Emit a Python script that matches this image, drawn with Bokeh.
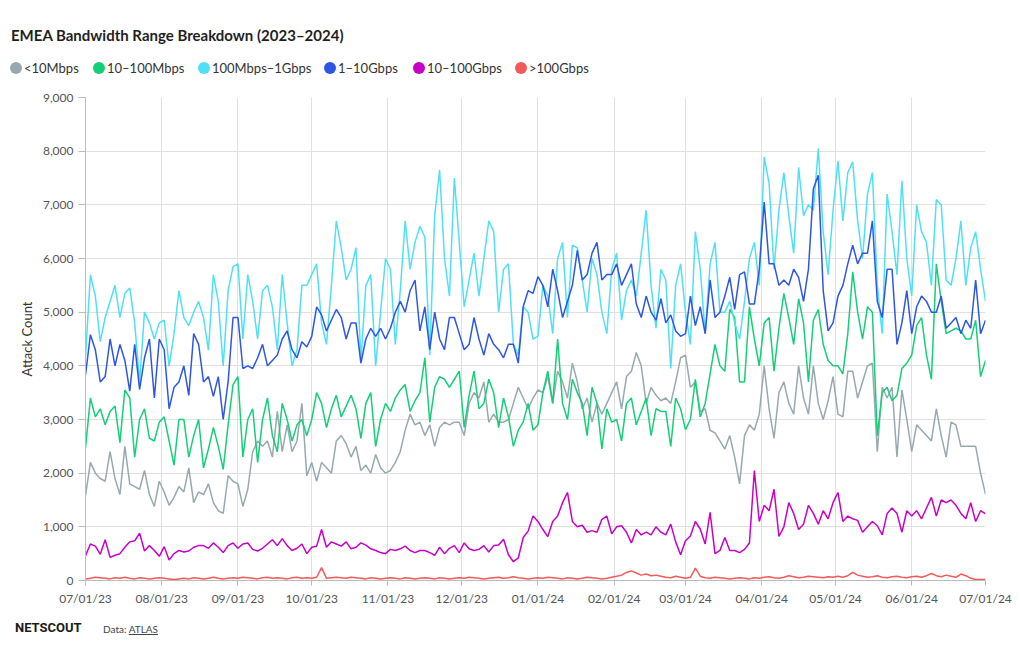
import sys
import pandas as pd
from bokeh.plotting import figure
from bokeh.models import (Range1d, FixedTicker, DatetimeTickFormatter, Div,
                          NumeralTickFormatter, SingleIntervalTicker)
from bokeh.layouts import column
from bokeh.embed import file_html
from bokeh.resources import INLINE

TITLE = "EMEA Bandwidth Range Breakdown (2023\u20132024)"
NAMES = ["&lt;10Mbps", "10\u2013100Mbps", "100Mbps\u20131Gbps", "1\u201310Gbps", "10\u2013100Gbps", "&gt;100Gbps"]
COLORS = ["#97a9af", "#14cf77", "#4fe0f5", "#2d56e6", "#c800c8", "#f25a5a"]

# sampled every 2 days from 07/01/23 to 07/01/24
dates = pd.date_range("2023-07-01", "2024-07-01", freq="2D")
month_ticks = pd.date_range("2023-07-01", "2024-07-01", freq="MS")

lt10m = [1580, 2200, 2000, 1900, 1850, 2400, 1900, 1600, 2500, 1800, 1750, 1700, 2050, 1600, 1380, 1850,
         1650, 1400, 1550, 1750, 1650, 2100, 1450, 1650, 1600, 1800, 1450, 1300, 1250, 1950, 1850,
         1800, 1380, 1700, 2400, 2600, 2500, 2600, 2300, 3150, 2400, 2900, 2400, 2600, 3300, 1950,
         2200, 1850, 2200, 2100, 2000, 2600, 2700, 2550, 2300, 2500, 2050, 2150, 2000, 2350, 2100, 2000,
         2050, 2200, 2400, 2800, 3100, 2900, 2950, 2700, 2900, 2500, 2850, 2950, 2900, 2950, 2950,
         2700, 3300, 3500, 3400, 3700, 2950, 3100, 2950, 2950, 3000, 3300, 3600, 3400, 3200, 3400,
         3550, 3500, 3800, 3300, 3900, 3700, 3400, 4050, 3700, 3200, 3400, 2950, 3300, 3100, 3300, 3500,
         3700, 3200, 3800, 3900, 4250, 4000, 3300, 3600, 3450, 3350, 3400, 3300, 3700, 4150,
         4200, 3600, 3700, 3150, 3200, 2800, 2750, 2600, 2450, 2700, 2300, 1800, 2700, 2900, 2800, 3100,
         4000, 3200, 2650, 3500, 3700, 3300, 3100, 4000, 3400, 3100, 4000, 3300, 3000, 3350, 3800,
         3100, 3050, 3900, 3900, 3400, 3700, 4000, 4050, 2400, 3600, 3400, 3600, 2300, 3550, 3000,
         2400, 2900, 2800, 2700, 2600, 3200, 2700, 2300, 2950, 2900, 2500, 2500, 2500, 2500, 2000, 1610]

m10_100 = [2470, 3400, 3050, 3200, 2900, 3150, 3250, 2570, 3550, 3400, 2300, 3000, 3200, 2650, 2600, 2950,
           3050, 2600, 2150, 3000, 3000, 2300, 2700, 3000, 2100, 2450, 2850, 2500, 2070, 2900, 3650,
           3800, 2300, 3000, 3200, 2200, 3000, 3400, 2700, 2400, 3300, 3000, 2600, 2900, 3000, 2700,
           3000, 3500, 3300, 2850, 3200, 3450, 3050, 3250, 3450, 3200, 2650, 3300, 3500, 2500, 3000, 3300,
           3150, 3400, 3550, 3650, 3150, 3350, 3500, 4150, 2950, 3600, 3800, 3750, 3600, 3750, 3900,
           2850, 3450, 3900, 3200, 3300, 3750, 3500, 2850, 3400, 3050, 2500, 2800, 2950, 3300, 2800,
           2900, 3500, 3900, 3300, 4500, 3300, 3000, 3750, 3500, 3300, 2700, 3600, 3300, 2450, 3200, 2950,
           3000, 2600, 3300, 3400, 2900, 3150, 3400, 2700, 3200, 3150, 3150, 2500, 3400, 3200,
           2810, 3000, 3750, 3050, 3300, 3850, 4400, 4000, 3900, 5050, 4900, 3700, 3700, 5100, 4500, 4000,
           4800, 4900, 3900, 4700, 5350, 4900, 4400, 5250, 4800, 3700, 4850, 5050, 4400, 4100, 4000,
           4000, 3850, 4600, 5750, 5000, 4500, 5100, 5000, 2700, 3500, 3600, 3350, 3450, 3950, 4050,
           4200, 4750, 4900, 4200, 3750, 5900, 5200, 4600, 4650, 4700, 4650, 4500, 4500, 4850, 3800, 4100]

m100_1g = [4170, 5700, 5300, 4450, 4900, 5200, 5500, 4900, 5350, 5450, 4800, 3700, 5000, 4800, 4500, 4800,
           4850, 3990, 4600, 5400, 4900, 4750, 5000, 5200, 4900, 4290, 5700, 5200, 4000, 5400, 5850,
           5900, 4500, 5700, 5200, 4500, 5400, 5500, 5100, 4300, 5700, 4800, 4000, 4300, 5500, 5500,
           5700, 5900, 4800, 4400, 5500, 6700, 6200, 5600, 5800, 6200, 4100, 5500, 5700, 4000, 5000, 6000,
           5800, 4400, 5400, 6700, 5800, 6300, 6600, 6400, 4200, 6800, 7650, 6000, 5300, 7500, 6300,
           5100, 5600, 6100, 5300, 6000, 6700, 6500, 5000, 5800, 5900, 4400, 4200, 5100, 5000, 4500,
           4550, 5500, 5300, 4600, 6000, 6300, 4900, 6250, 6200, 5600, 5000, 6000, 5700, 5000, 4600, 5800,
           6100, 4850, 5400, 5600, 5300, 6100, 6900, 5500, 4700, 5800, 5600, 3950, 5500, 5900,
           5000, 4400, 6500, 5800, 4600, 5900, 6300, 5000, 5000, 5200, 4800, 4500, 5200, 6000, 6300, 5500,
           7890, 7400, 5800, 6900, 7600, 6800, 6100, 7700, 6800, 7000, 6900, 8050, 6500, 5700, 6900,
           7820, 6700, 7600, 7800, 6700, 6000, 7200, 7600, 5500, 4600, 7200, 6500, 5700, 7450, 6000,
           5300, 7000, 6500, 6300, 5500, 7100, 7000, 5600, 5500, 6000, 6700, 5500, 6200, 6500, 5800, 5200]

g1_10 = [3830, 4580, 4300, 3700, 3800, 4500, 4000, 4400, 4100, 3530, 4400, 3560, 4150, 4500, 3400, 4500,
         4300, 3200, 3600, 3700, 4000, 3450, 4600, 4400, 3700, 3800, 3430, 3800, 3000, 3700, 4900,
         4900, 3950, 4000, 3950, 4150, 4400, 4000, 4100, 4200, 4500, 4650, 4300, 4150, 4450, 4350,
         4550, 5100, 4950, 4650, 4850, 5050, 4900, 4500, 4800, 4800, 4050, 4500, 4700, 4550, 4700, 4500,
         4700, 5000, 5200, 5000, 5400, 5600, 4650, 5100, 4300, 5000, 4500, 4300, 4900, 4900, 4600,
         4300, 4400, 4900, 4500, 4200, 4600, 4400, 4300, 4150, 4400, 4400, 4050, 5100, 5400, 5350,
         5660, 5500, 5100, 5800, 5400, 4900, 5200, 5500, 6150, 5600, 5700, 6100, 6300, 5600, 5700, 5700,
         5900, 5500, 5700, 5900, 5150, 4900, 5300, 5000, 4850, 5250, 4800, 4950, 4650, 4550,
         4600, 5300, 4750, 5100, 4600, 5600, 4900, 5000, 5300, 5650, 5050, 5700, 5750, 5150, 5150, 5800,
         7050, 5900, 5900, 5500, 5600, 5500, 5800, 5650, 5200, 5800, 7300, 7550, 5400, 4650, 4800,
         5300, 5500, 5900, 6250, 5900, 6100, 6100, 6700, 5200, 4900, 5800, 5800, 4400, 4800, 5400,
         4600, 5100, 5300, 5200, 5000, 5000, 5300, 4700, 4800, 4900, 4600, 4850, 4700, 5600, 4600, 4850]

g10_100 = [460, 680, 640, 490, 760, 430, 470, 500, 620, 720, 740, 880, 550, 650, 560, 450,
           630, 380, 500, 560, 530, 550, 620, 650, 650, 600, 700, 620, 520, 650, 700,
           600, 680, 700, 580, 550, 600, 680, 760, 650, 780, 650, 560, 600, 680, 500,
           620, 640, 950, 620, 720, 680, 640, 720, 590, 620, 700, 660, 590, 560, 520, 500,
           580, 560, 590, 640, 560, 520, 560, 560, 520, 470, 620, 500, 600, 650, 520,
           700, 590, 560, 580, 650, 530, 650, 660, 770, 480, 350, 420, 800, 920, 1200,
           1100, 950, 820, 1100, 1200, 1450, 1640, 1100, 1000, 1030, 900, 930, 900, 1140, 1200, 870,
           1000, 1020, 900, 700, 950, 850, 900, 850, 1000, 900, 850, 1050, 720, 480,
           740, 830, 1100, 960, 680, 1270, 500, 560, 800, 560, 560, 520, 580, 700, 2050, 1100,
           1400, 1300, 1700, 820, 1000, 1450, 1250, 950, 1050, 1400, 1250, 1050, 1300, 1150, 1450,
           1640, 1100, 1200, 1150, 1120, 900, 1000, 1100, 1020, 850, 1250, 1350, 1250, 900, 1300,
           1200, 1300, 1150, 1350, 1550, 1200, 1500, 1450, 1500, 1400, 1250, 1150, 1450, 1100, 1300, 1240]

gt100g = [30, 40, 60, 50, 40, 30, 50, 40, 60, 40, 30, 50, 40, 30, 40, 50,
          40, 30, 20, 30, 40, 30, 50, 40, 30, 40, 60, 40, 30, 40, 50,
          40, 60, 50, 40, 30, 50, 60, 40, 50, 40, 30, 50, 60, 40, 50,
          40, 60, 240, 40, 50, 60, 50, 40, 60, 50, 40, 30, 50, 40, 30, 40,
          50, 40, 30, 50, 40, 30, 40, 50, 40, 30, 50, 40, 30, 40, 50,
          40, 60, 50, 40, 30, 40, 50, 60, 40, 50, 70, 50, 40, 30, 40,
          50, 40, 60, 50, 40, 30, 50, 40, 30, 40, 60, 50, 40, 30, 40, 60,
          80, 100, 150, 180, 140, 100, 120, 90, 100, 80, 60, 50, 80, 60,
          40, 60, 230, 80, 50, 40, 60, 50, 40, 30, 40, 50, 40, 30, 50, 40,
          60, 70, 50, 40, 60, 90, 70, 50, 60, 80, 70, 60, 50, 70, 60,
          80, 60, 90, 150, 100, 80, 60, 70, 90, 60, 50, 70, 80, 60, 50,
          70, 80, 60, 90, 130, 90, 70, 100, 80, 60, 120, 90, 40, 20, 20, 20]

SERIES = [lt10m, m10_100, m100_1g, g1_10, g10_100, gt100g]
print("lengths", len(dates), [len(s) for s in SERIES], file=sys.stderr)

FONT = "Lato"
W = 1015
HEAD_H = 80
FOOT_H = 33

# ---------- header: title + legend (HTML) ----------
leg_x = [16, 99, 204, 330, 419, 521]
parts = [f'<span style="position:absolute;left:11px;top:26px;line-height:18px;font-size:15px;'
         f'font-weight:bold;color:#1f1f1f;white-space:nowrap;">{TITLE}</span>']
for cx, name, col in zip(leg_x, NAMES, COLORS):
    parts.append(f'<span style="position:absolute;left:{cx - 6}px;top:62px;width:12px;height:12px;'
                 f'border-radius:6px;background:{col};display:block;"></span>')
    parts.append(f'<span style="position:absolute;left:{cx + 8}px;top:60px;line-height:16px;'
                 f'font-size:13px;color:#333333;white-space:nowrap;">{name}</span>')
head_html = (f'<div style="position:relative;width:{W}px;height:{HEAD_H}px;'
             f'font-family:{FONT},sans-serif;margin:0;padding:0;">' + "".join(parts) + '</div>')
head = Div(text=head_html, width=W, height=HEAD_H, margin=0)

# ---------- main chart ----------
p = figure(width=W, height=532, x_axis_type="datetime",
           x_range=Range1d(dates[0], dates[-1]), y_range=Range1d(0, 9000),
           toolbar_location=None, output_backend="svg", margin=0,
           min_border_left=85, min_border_right=30, min_border_top=17, min_border_bottom=32)
p.outline_line_color = None
for vals, col in zip(SERIES, COLORS):
    p.line(x=dates[:len(vals)], y=vals, line_color=col, line_width=1.5)

p.xaxis.ticker = FixedTicker(ticks=[t.timestamp() * 1000 for t in month_ticks])
fmt = "%m/%d/%y"
p.xaxis.formatter = DatetimeTickFormatter(microseconds=fmt, milliseconds=fmt, seconds=fmt,
                                          minsec=fmt, minutes=fmt, hourmin=fmt, hours=fmt,
                                          days=fmt, months=fmt, years=fmt)
p.yaxis.ticker = SingleIntervalTicker(interval=1000)
p.yaxis.formatter = NumeralTickFormatter(format="0,0")
p.yaxis.axis_label = "Attack Count"
p.yaxis.axis_label_text_font = FONT
p.yaxis.axis_label_text_font_size = "13px"
p.yaxis.axis_label_text_font_style = "normal"
p.yaxis.axis_label_text_color = "#333333"
for ax in (p.xaxis, p.yaxis):
    ax.major_label_text_font = FONT
    ax.major_label_text_font_size = "12px"
    ax.major_label_text_color = "#555555"
    ax.axis_line_color = "#bbbbbb"
    ax.major_tick_line_color = "#bbbbbb"
    ax.minor_tick_line_color = None
    ax.major_tick_in = 0
p.yaxis.major_tick_out = 7
p.xaxis.major_tick_out = 5
p.grid.grid_line_color = "#e0e0e0"
p.grid.grid_line_width = 1

# ---------- footer (HTML) ----------
foot_html = (f'<div style="position:relative;width:{W}px;height:{FOOT_H}px;margin:0;padding:0;">'
             '<span style="position:absolute;left:15px;top:8px;line-height:16px;font-family:Roboto,sans-serif;'
             'font-size:13px;font-weight:bold;color:#1a1a1a;">NETSCOUT</span>'
             f'<span style="position:absolute;left:103px;top:11px;line-height:12px;font-family:{FONT},sans-serif;'
             'font-size:10px;color:#444444;white-space:nowrap;">Data: '
             '<span style="text-decoration:underline;">ATLAS</span></span>'
             '</div>')
foot = Div(text=foot_html, width=W, height=FOOT_H, margin=0)

layout = column(head, p, foot, spacing=0)
open("out.html", "w").write(file_html(layout, INLINE))
